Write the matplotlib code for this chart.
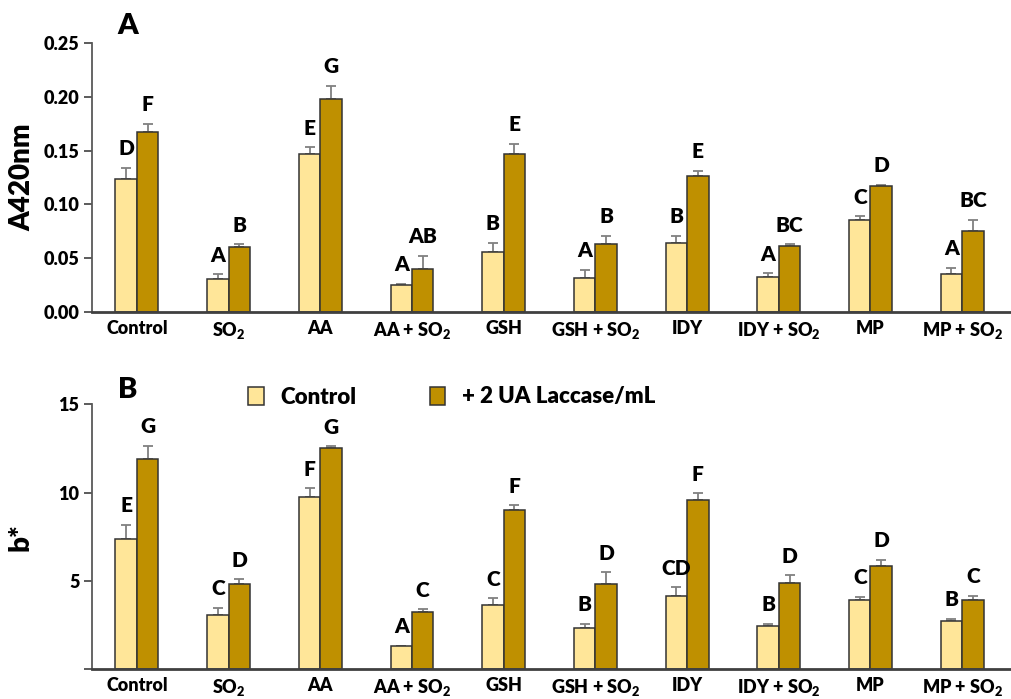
import matplotlib
matplotlib.use("Agg")
import matplotlib.pyplot as plt
from matplotlib.patches import Patch
import numpy as np

WT = 'heavy'
plt.rcParams['font.family'] = ['Lato', 'DejaVu Sans']
plt.rcParams['font.weight'] = WT
plt.rcParams['mathtext.fontset'] = 'custom'
plt.rcParams['mathtext.rm'] = 'Lato:heavy'
plt.rcParams['mathtext.bf'] = 'Lato:heavy'
plt.rcParams['mathtext.it'] = 'Lato:heavy'
plt.rcParams['mathtext.default'] = 'bf'

# Treatments
categories = ['Control', 'SO$_2$', 'AA', 'AA + SO$_2$', 'GSH', 'GSH + SO$_2$',
              'IDY', 'IDY + SO$_2$', 'MP', 'MP + SO$_2$']

# Panel A: absorbance at 420 nm
a420_ctrl = [0.124, 0.031, 0.147, 0.025, 0.056, 0.032, 0.064, 0.033, 0.086, 0.035]
a420_ctrl_err = [0.010, 0.004, 0.006, 0.001, 0.008, 0.007, 0.007, 0.003, 0.003, 0.006]
a420_lac = [0.167, 0.060, 0.198, 0.040, 0.147, 0.063, 0.126, 0.061, 0.117, 0.075]
a420_lac_err = [0.008, 0.003, 0.012, 0.012, 0.009, 0.008, 0.005, 0.002, 0.001, 0.011]
a420_ctrl_letters = ['D', 'A', 'E', 'A', 'B', 'A', 'B', 'A', 'C', 'A']
a420_lac_letters = ['F', 'B', 'G', 'AB', 'E', 'B', 'E', 'BC', 'D', 'BC']

# Panel B: b* colour coordinate
b_ctrl = [7.37, 3.06, 9.75, 1.30, 3.61, 2.31, 4.12, 2.45, 3.91, 2.74]
b_ctrl_err = [0.80, 0.42, 0.49, 0.0, 0.40, 0.24, 0.51, 0.12, 0.17, 0.11]
b_lac = [11.92, 4.80, 12.55, 3.21, 9.00, 4.84, 9.58, 4.86, 5.86, 3.91]
b_lac_err = [0.72, 0.28, 0.07, 0.17, 0.27, 0.64, 0.38, 0.45, 0.32, 0.25]
b_ctrl_letters = ['E', 'C', 'F', 'A', 'C', 'B', 'CD', 'B', 'C', 'B']
b_lac_letters = ['G', 'D', 'G', 'C', 'F', 'D', 'F', 'D', 'D', 'C']

series_names = ['Control', '+ 2 UA Laccase/mL']

LIGHT = '#FFE699'
DARK = '#BF9000'
EDGE = '#333333'
ERR = '#808080'
AXC = '#404040'

fig = plt.figure(figsize=(10.12, 6.99), dpi=100)
axA = fig.add_axes([0.0909, 0.5536, 0.907, 0.3848])
axB = fig.add_axes([0.0909, 0.0429, 0.907, 0.3787])

x = np.arange(len(categories))
w = 0.234


def draw_panel(ax, v1, e1, v2, e2, l1, l2, ylim, yticks, yticklabels, ylabel, off):
    ax.bar(x - w / 2, v1, w, color=LIGHT, edgecolor=EDGE, linewidth=1.1, zorder=2)
    ax.bar(x + w / 2, v2, w, color=DARK, edgecolor=EDGE, linewidth=1.1, zorder=2)
    ax.errorbar(x - w / 2, v1, yerr=[np.zeros(len(v1)), e1], fmt='none',
                ecolor=ERR, elinewidth=1.3, capsize=3.5, capthick=1.3, zorder=1)
    ax.errorbar(x + w / 2, v2, yerr=[np.zeros(len(v2)), e2], fmt='none',
                ecolor=ERR, elinewidth=1.3, capsize=3.5, capthick=1.3, zorder=1)
    for xs, vs, es, ls in ((x - w / 2, v1, e1, l1), (x + w / 2, v2, e2, l2)):
        for xi, v, e, t in zip(xs, vs, es, ls):
            ax.annotate(t, (xi, v + e), xytext=(0, 7), textcoords='offset points',
                        ha='center', va='bottom', fontsize=15, fontweight=WT,
                        annotation_clip=False)
    ax.set_xlim(-0.49, 9.52)
    ax.set_ylim(*ylim)
    ax.set_yticks(yticks)
    ax.set_yticklabels(yticklabels, fontsize=13, fontweight=WT)
    ax.set_xticks(x)
    ax.set_xticklabels(categories, fontsize=13, fontweight=WT)
    ax.tick_params(axis='x', length=0, pad=6)
    ax.tick_params(axis='y', length=6, width=1.2, color=AXC, pad=3)
    for s in ('top', 'right'):
        ax.spines[s].set_visible(False)
    ax.spines['left'].set_color('#595959')
    ax.spines['left'].set_linewidth(1.3)
    ax.spines['bottom'].set_color(AXC)
    ax.spines['bottom'].set_linewidth(2.0)
    ax.set_ylabel(ylabel, fontsize=20, fontweight=WT)
    ax.yaxis.set_label_coords(off, 0.5)


draw_panel(axA, a420_ctrl, a420_ctrl_err, a420_lac, a420_lac_err,
           a420_ctrl_letters, a420_lac_letters, (0, 0.25),
           [0, 0.05, 0.10, 0.15, 0.20, 0.25],
           ['0.00', '0.05', '0.10', '0.15', '0.20', '0.25'], 'A420nm', -0.062)
draw_panel(axB, b_ctrl, b_ctrl_err, b_lac, b_lac_err,
           b_ctrl_letters, b_lac_letters, (0, 15),
           [0, 5, 10, 15], ['', '5', '10', '15'], 'b*', -0.064)

fig.text(128 / 1012, 1 - 26 / 699, 'A', fontsize=21, fontweight=WT,
         ha='center', va='center')
fig.text(128 / 1012, 1 - 390 / 699, 'B', fontsize=21, fontweight=WT,
         ha='center', va='center')

handles = [Patch(facecolor=LIGHT, edgecolor=EDGE, linewidth=1.1),
           Patch(facecolor=DARK, edgecolor=EDGE, linewidth=1.1)]
fig.legend(handles, series_names, loc='center left',
           bbox_to_anchor=(228 / 1012, 1 - 397 / 699), ncol=2, frameon=False,
           handlelength=0.7, handleheight=0.85,
           handletextpad=0.75, columnspacing=3.3, prop={'weight': WT, 'size': 16})

fig.savefig('out.png', dpi=100)
